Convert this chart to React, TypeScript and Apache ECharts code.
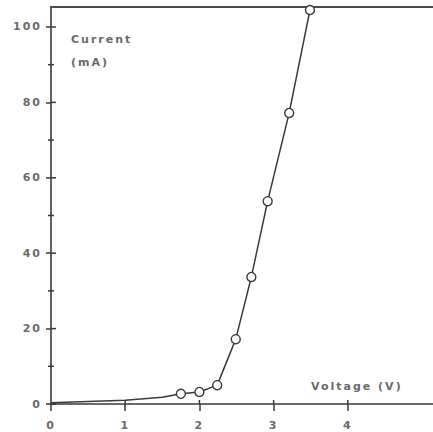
import React, { useEffect, useRef } from "react";
import * as echarts from "echarts";

// Measured points (open circles)
const measuredVoltage = [1.75, 2.0, 2.24, 2.49, 2.7, 2.92, 3.21, 3.49];
const measuredCurrent = [2.7, 3.2, 5.0, 17.2, 33.7, 53.8, 77.2, 104.5];
// Unmarked points read along the low-voltage part of the curve
const curveVoltage = [0, 1, 1.5];
const curveCurrent = [0.3, 1.0, 1.8];

const xTickValues = [0, 1, 2, 3, 4];
const yMajorTicks = [0, 20, 40, 60, 80, 100];
const yMinorTicks = [10, 30, 50, 70, 90];

const X_MAX = 5.148;
const Y_MAX = 105.3;

const textColor = "#6a6a6a";
const lineColor = "#3a3a3a";
const font = "DejaVu Sans";

export default function App() {
  const ref = useRef<HTMLDivElement>(null);
  useEffect(() => {
    if (!ref.current) return;
    const chart = echarts.init(ref.current, undefined, { renderer: "svg" });
    const data: any[] = [];
    curveVoltage.forEach((v, i) =>
      data.push({ value: [v, curveCurrent[i]], symbol: "none" })
    );
    measuredVoltage.forEach((v, i) => data.push({ value: [v, measuredCurrent[i]] }));

    const tickStyle = { color: lineColor, width: 1.5 };
    const labelStyle = {
      show: true,
      color: textColor,
      fontFamily: font,
      fontWeight: "bold" as const,
      fontSize: 11,
    };

    // custom series drawing the inner half of the crossing ticks through the axis scales
    const tickSeries = (
      values: number[],
      dir: "y" | "x",
      before: number,
      after: number
    ) => ({
      type: "custom",
      xAxisIndex: 0,
      yAxisIndex: 0,
      clip: false,
      silent: true,
      z: 3,
      data: values.map((v) => (dir === "y" ? [0, v] : [v, 0])),
      renderItem: (_params: any, api: any) => {
        const p = api.coord([api.value(0), api.value(1)]);
        const shape =
          dir === "y"
            ? { x1: p[0] - before, y1: p[1], x2: p[0] + after, y2: p[1] }
            : { x1: p[0], y1: p[1] + before, x2: p[0], y2: p[1] - after };
        return {
          type: "line",
          shape,
          style: { stroke: lineColor, lineWidth: 1.5 },
        };
      },
    });

    chart.setOption({
      animation: false,
      grid: { left: 51, right: 0, top: 7, bottom: 28, containLabel: false },
      xAxis: [
        {
          type: "value",
          min: 0,
          max: X_MAX,
          position: "bottom",
          splitLine: { show: false },
          axisLine: { show: true, onZero: false, lineStyle: { color: lineColor, width: 1.6 } },
          axisTick: { show: true, inside: false, length: 7, customValues: xTickValues, lineStyle: tickStyle },
          axisLabel: { ...labelStyle, margin: 16, customValues: xTickValues },
        },
        {
          type: "value",
          min: 0,
          max: X_MAX,
          position: "top",
          splitLine: { show: false },
          axisLine: { show: true, onZero: false, lineStyle: { color: "#4a4a4a", width: 2 } },
          axisTick: { show: false },
          axisLabel: { show: false },
        },
      ],
      yAxis: [
        {
          type: "value",
          min: 0,
          max: Y_MAX,
          position: "left",
          splitLine: { show: false },
          axisLine: { show: true, onZero: false, lineStyle: { color: lineColor, width: 1.6 } },
          axisTick: { show: true, inside: false, length: 5, customValues: yMajorTicks, lineStyle: tickStyle },
          axisLabel: { ...labelStyle, margin: 9, customValues: yMajorTicks },
        },
      ],
      graphic: [
        {
          type: "text",
          left: 71,
          top: 34,
          style: { text: "Current", fill: textColor, font: `bold 11px "${font}"` },
        },
        {
          type: "text",
          left: 71,
          top: 57,
          style: { text: "(mA)", fill: textColor, font: `bold 11px "${font}"` },
        },
        {
          type: "text",
          left: 311,
          top: 381,
          style: { text: "Voltage (V)", fill: textColor, font: `bold 11px "${font}"` },
        },
      ],
      series: [
        tickSeries(yMajorTicks, "y", 0, 5),
        tickSeries(yMinorTicks, "y", 3, 3),
        tickSeries(xTickValues.slice(1), "x", 0, 4),
        {
          type: "line",
          xAxisIndex: 0,
          yAxisIndex: 0,
          data,
          symbol: "circle",
          symbolSize: 9,
          showAllSymbol: true,
          clip: false,
          lineStyle: { color: lineColor, width: 1.5 },
          itemStyle: { color: "#ffffff", borderColor: lineColor, borderWidth: 1.4 },
          z: 5,
        },
      ],
    });
    return () => chart.dispose();
  }, []);
  return (
    <>
      <style>{`#chart-box text { letter-spacing: 2px; }`}</style>
      <div
        id="chart-box"
        ref={ref}
        style={{ position: "fixed", left: 0, top: 0, width: 433, height: 432, background: "#fff" }}
      />
    </>
  );
}
